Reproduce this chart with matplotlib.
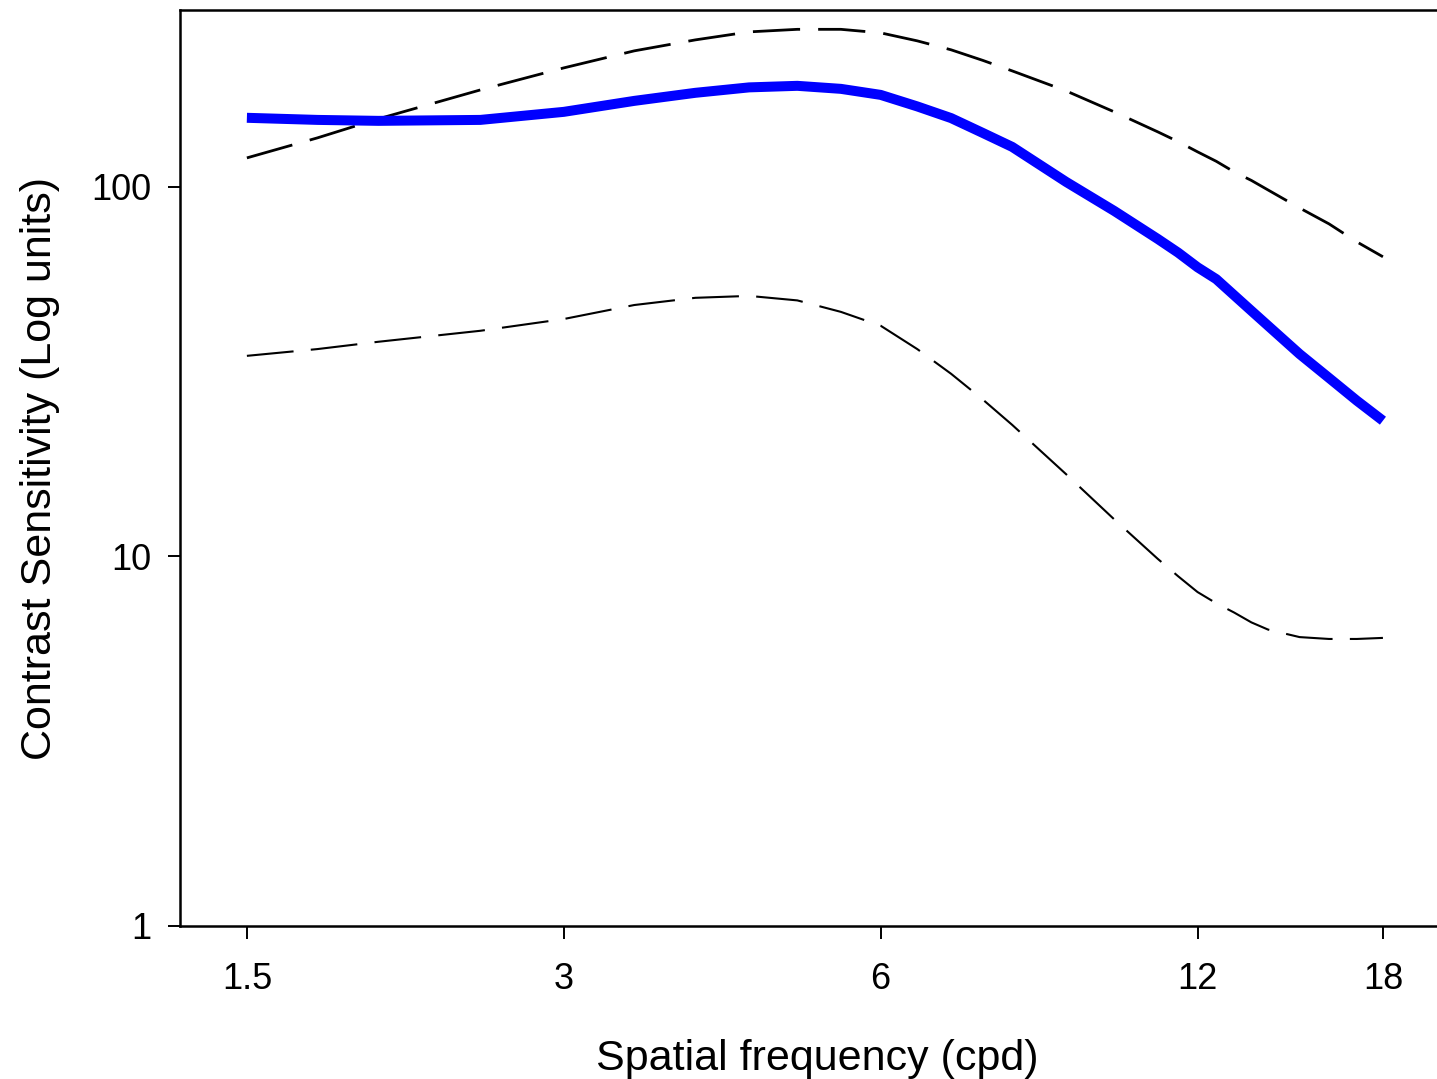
"""Contrast sensitivity vs spatial frequency with confidence band (log-log)."""

import matplotlib
matplotlib.use("Agg")
import matplotlib.pyplot as plt
from matplotlib.ticker import FixedLocator, FixedFormatter, NullLocator

# spatial frequencies (cpd) where the curves were read
freq = [1.5, 1.75, 2, 2.5, 3, 3.5, 4, 4.5, 5, 5.5, 6, 6.5, 7, 7.5, 8, 9, 10,
        11, 11.5, 12, 12.5, 13, 13.5, 14, 15, 16, 17, 18]

# mean contrast sensitivity (thick blue)
cs_mean = [153.8, 151.8, 150.9, 151.8, 159.6, 170.9, 179.7, 185.9, 187.7,
           184.2, 177.4, 165.1, 153.5, 140.0, 128.3, 103.2, 86.1, 72.3, 66.4,
           60.6, 56.3, 50.9, 46.2, 42.1, 35.3, 30.4, 26.4, 23.3]

# upper and lower limits (dashed)
cs_upper = [119.8, 135.7, 152.8, 183.0, 209.9, 233.4, 249.9, 262.7, 266.9,
            266.9, 261.1, 248.4, 234.9, 220.0, 206.0, 181.9, 159.6, 140.9,
            132.6, 124.4, 117.3, 109.8, 104.1, 98.1, 87.7, 79.4, 71.0, 64.7]
cs_lower = [34.9, 36.4, 38.1, 40.8, 43.9, 47.9, 50.1, 50.7, 49.3, 45.9, 42.1,
            36.4, 31.2, 26.6, 22.7, 16.7, 12.6, 9.85, 8.84, 8.01, 7.47, 7.05,
            6.63, 6.34, 6.05, 5.98, 5.98, 6.02]

x_ticks = [1.5, 3, 6, 12, 18]
x_tick_labels = ["1.5", "3", "6", "12", "18"]
y_ticks = [1, 10, 100]
y_tick_labels = ["1", "10", "100"]

plt.rcParams["font.family"] = ["Liberation Sans", "DejaVu Sans"]

fig = plt.figure(figsize=(14.37, 10.79), dpi=100)
ax = fig.add_axes([0.1253, 0.1418, 0.8747, 0.8489])

ax.plot(freq, cs_upper, color="black", lw=2.0, linestyle=(0, (17, 6.5)),
        dash_capstyle="butt", dash_joinstyle="round")
ax.plot(freq, cs_lower, color="black", lw=1.5, linestyle=(0, (22.5, 8.3)),
        dash_capstyle="butt", dash_joinstyle="round")
ax.plot(freq, cs_mean, color="#0000ff", lw=7.2, solid_capstyle="butt",
        solid_joinstyle="round")

ax.set_xscale("log")
ax.set_yscale("log")
ax.set_xlim(1.296, 20.26)
ax.set_ylim(1, 301)

ax.xaxis.set_major_locator(FixedLocator(x_ticks))
ax.xaxis.set_major_formatter(FixedFormatter(x_tick_labels))
ax.xaxis.set_minor_locator(NullLocator())
ax.yaxis.set_major_locator(FixedLocator(y_ticks))
ax.yaxis.set_major_formatter(FixedFormatter(y_tick_labels))
ax.yaxis.set_minor_locator(NullLocator())

ax.tick_params(axis="both", direction="out", length=9, width=1.4,
               labelsize=26, color="black")
ax.tick_params(axis="x", pad=17)
ax.tick_params(axis="y", pad=12)

for side in ("left", "bottom", "top"):
    ax.spines[side].set_linewidth(1.8)
ax.spines["right"].set_visible(False)

ax.set_xlabel("Spatial frequency (cpd)", fontsize=31, labelpad=30)
ax.xaxis.label.set_x(0.507)
ax.set_ylabel("Contrast Sensitivity (Log units)", fontsize=31, labelpad=22)

fig.savefig("out.png", dpi=100)
